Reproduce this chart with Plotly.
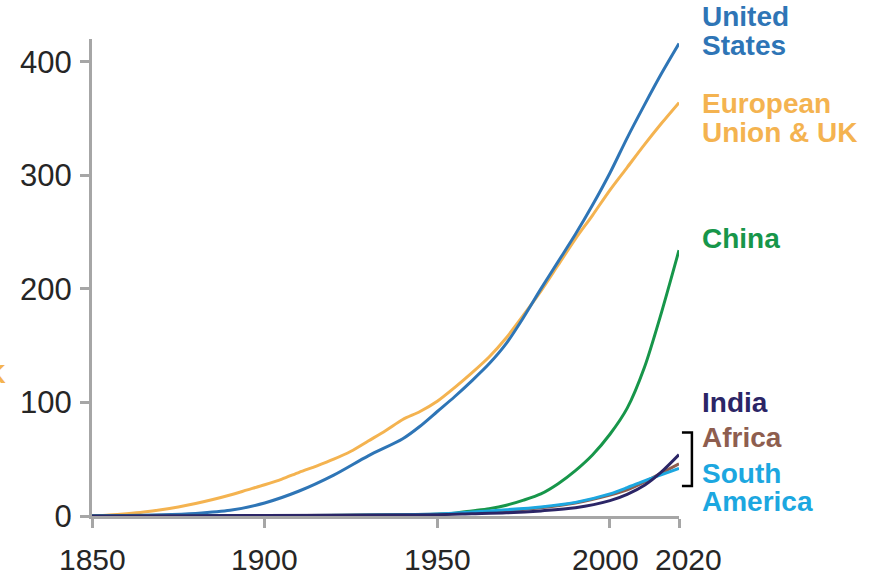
import plotly.graph_objects as go

# Cumulative CO2 emissions by region (Gt), read per year
years_us = [1850, 1860, 1870, 1880, 1890, 1900, 1910, 1920, 1930, 1940, 1945, 1950, 1955, 1960,
            1965, 1970, 1975, 1980, 1985, 1990, 1995, 2000, 2005, 2010, 2015, 2020]
us = [0, 0.4, 1.0, 2.3, 5, 11.5, 22, 36, 53, 68, 79, 92, 105, 119,
      134, 152, 175, 200, 224, 248, 274, 302, 333, 362, 390, 416]

years_eu = [1850, 1855, 1860, 1865, 1870, 1875, 1880, 1885, 1890, 1895, 1900, 1905, 1910, 1915,
            1920, 1925, 1930, 1935, 1940, 1945, 1950, 1955, 1960, 1965, 1970, 1975, 1980,
            1985, 1990, 1995, 2000, 2005, 2010, 2015, 2020]
eu = [0, 0.8, 2, 3.5, 5.5, 8, 11, 14.5, 18.5, 23, 27.5, 32.5, 38.5, 44,
      50, 57, 66, 75, 85, 92, 101, 113, 126, 140, 157, 177, 198,
      221, 244, 265, 287, 307, 327, 346, 364]

years_cn = [1850, 1900, 1950, 1955, 1960, 1965, 1970, 1975, 1980, 1985, 1990, 1995, 2000,
            2005, 2010, 2015, 2020]
china = [0, 0.2, 1.5, 2.5, 4.5, 6.5, 9.5, 14, 19.5, 28.5, 40, 54, 72, 95, 131, 180, 234]

years_small = [1850, 1900, 1950, 1960, 1970, 1980, 1990, 2000, 2005, 2010, 2015, 2020]
africa = [0, 0.3, 1.5, 2.8, 4.5, 7.3, 11.5, 18.5, 23, 30, 38, 46]
south_america = [0, 0.3, 1.8, 3.5, 5.5, 8, 12, 19.5, 25, 31, 36.5, 42]
india = [0, 0.4, 1.2, 2, 2.8, 4.5, 7.2, 13.5, 19, 27, 39, 54]

x_ticks = [1850, 1900, 1950, 2000, 2020]
x_tick_nudge = [0, 0, 0, -4, 9]   # spread the two close labels at the right end
y_ticks = [0, 100, 200, 300, 400]
x_range = [1850, 2020]
y_range = [0, 420]

C_US = "#2e75b6"
C_EU = "#f4b350"
C_CN = "#17964a"
C_IN = "#2b2566"
C_AF = "#8e5e4f"
C_SA = "#1ca7e0"

FONT = "Liberation Sans, Arial"


def yp(v):
    """Data value -> paper fraction on the y axis."""
    return (v - y_range[0]) / (y_range[1] - y_range[0])


series = [
    (years_eu, eu, C_EU),
    (years_us, us, C_US),
    (years_cn, china, C_CN),
    (years_small, africa, C_AF),
    (years_small, south_america, C_SA),
    (years_small, india, C_IN),
]

fig = go.Figure()
for xs, ys, col in series:
    fig.add_trace(go.Scatter(x=xs, y=ys, mode="lines",
                             line=dict(color=col, width=3, shape="spline", smoothing=0.8),
                             hoverinfo="skip", showlegend=False))

# Region labels to the right of the line ends, one annotation per text line
labels = [
    ("United", 439.6, C_US), ("States", 414.5, C_US),
    ("European", 363.0, C_EU), ("Union & UK", 337.5, C_EU),
    ("China", 244, C_CN),
    ("India", 99.5, C_IN),
    ("Africa", 69.0, C_AF),
    ("South", 37.0, C_SA), ("America", 12.5, C_SA),
]
annotations = []
for txt, yv, col in labels:
    annotations.append(dict(x=1.036, xref="paper", y=yp(yv), yref="paper",
                            text="<b>%s</b>" % txt,
                            showarrow=False, xanchor="left", yanchor="middle",
                            font=dict(family=FONT, size=28, color=col)))

# X tick labels
for xv, dx in zip(x_ticks, x_tick_nudge):
    annotations.append(dict(x=xv, xref="x", y=-0.092, yref="paper", text=str(xv),
                            showarrow=False, xanchor="center", yanchor="middle", xshift=dx,
                            font=dict(family=FONT, size=30, color="#262626")))

# Partially visible orange glyph on the far left
annotations.append(dict(x=-0.143, xref="paper", y=yp(125), yref="paper", text="<b>K</b>",
                        showarrow=False, xanchor="right", yanchor="middle",
                        font=dict(family=FONT, size=26, color=C_EU)))

# Bracket grouping Africa and South America
br_lo, br_hi = 26.5, 73.5
bx0, bx1 = 1.005, 1.022
shapes = [dict(type="path", xref="paper", yref="paper",
               path="M %f,%f L %f,%f L %f,%f L %f,%f" % (bx0, yp(br_hi), bx1, yp(br_hi),
                                                          bx1, yp(br_lo), bx0, yp(br_lo)),
               line=dict(color="black", width=2.5))]

axis_common = dict(showline=True, linecolor="#a6a6a6", linewidth=3, ticks="outside",
                   ticklen=9, tickwidth=3, tickcolor="#a6a6a6", showgrid=False,
                   zeroline=False,
                   tickfont=dict(family=FONT, size=31, color="#262626"))

fig.update_layout(
    width=877, height=579,
    margin=dict(l=92, r=198, t=39, b=63),
    paper_bgcolor="white", plot_bgcolor="white",
    xaxis=dict(range=x_range, tickvals=x_ticks, showticklabels=False, **axis_common),
    yaxis=dict(range=y_range, tickvals=y_ticks, ticklabelstandoff=2, **axis_common),
    annotations=annotations, shapes=shapes,
)

fig.write_html("out.html")
